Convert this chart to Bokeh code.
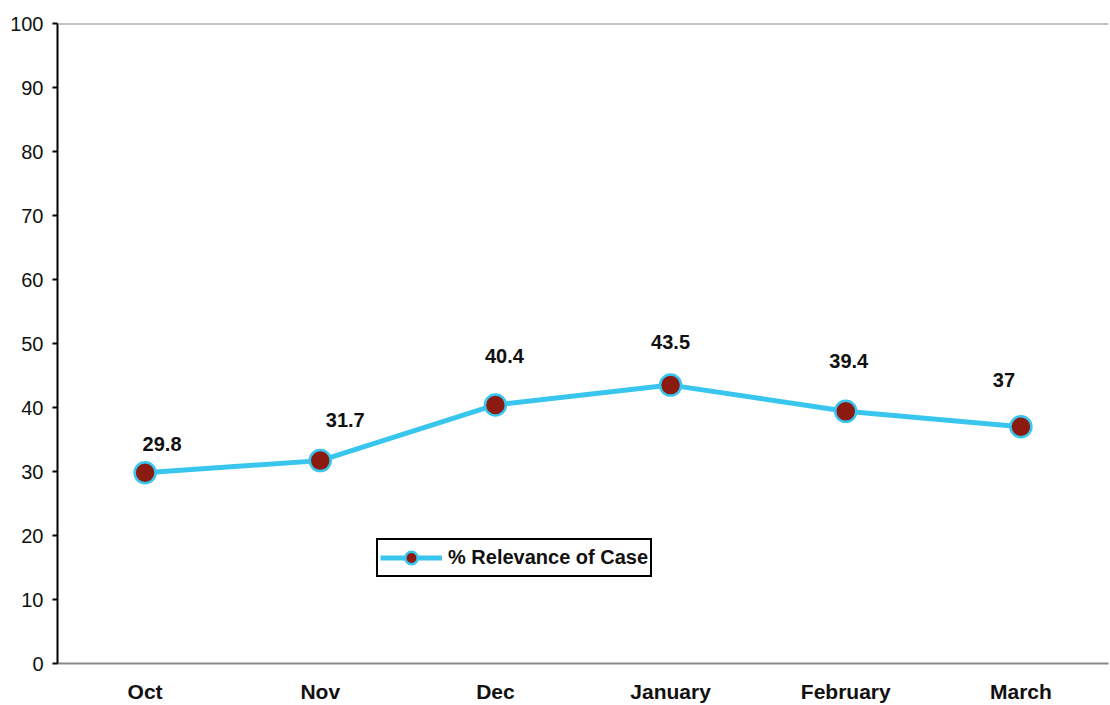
from bokeh.plotting import figure
from bokeh.models import ColumnDataSource, Span, Legend, LegendItem, FixedTicker, LabelSet
from bokeh.core.properties import value
from bokeh.embed import file_html
from bokeh.resources import INLINE

months = ["Oct", "Nov", "Dec", "January", "February", "March"]
relevance = [29.8, 31.7, 40.4, 43.5, 39.4, 37]
labels = ["29.8", "31.7", "40.4", "43.5", "39.4", "37"]
y_ticks = [0, 10, 20, 30, 40, 50, 60, 70, 80, 90, 100]
# label placement offsets (screen pixels), as placed in the original chart
label_dx = [17, 25, 9, 0, 3, -17]
label_dy = [22, 34, 42, 36, 43, 40]

src = ColumnDataSource(dict(x=months, y=relevance, lab=labels, dx=label_dx, dy=label_dy))

p = figure(x_range=months, y_range=(0, 100), width=1110, height=705,
           output_backend="svg", toolbar_location=None,
           min_border_left=57, min_border_right=2, min_border_top=23, min_border_bottom=36)
p.outline_line_color = None
p.xgrid.grid_line_color = None
p.ygrid.grid_line_color = None
p.x_range.range_padding = 0

p.yaxis.ticker = FixedTicker(ticks=y_ticks)
p.yaxis.axis_line_color = "black"
p.yaxis.axis_line_width = 2
p.yaxis.major_tick_line_color = "black"
p.yaxis.major_tick_line_width = 2
p.yaxis.major_tick_out = 5
p.yaxis.major_tick_in = 0
p.yaxis.minor_tick_line_color = None
p.yaxis.major_label_text_font = "Liberation Sans"
p.yaxis.major_label_text_font_size = "20px"
p.yaxis.major_label_text_color = "#111111"
p.yaxis.major_label_standoff = 9

p.xaxis.axis_line_color = "#888888"
p.xaxis.axis_line_width = 2
p.xaxis.major_tick_line_color = None
p.xaxis.minor_tick_line_color = None
p.xaxis.major_label_text_font = "Liberation Sans"
p.xaxis.major_label_text_font_style = "bold"
p.xaxis.major_label_text_font_size = "21px"
p.xaxis.major_label_text_color = "#111111"
p.xaxis.major_label_standoff = 10

p.add_layout(Span(location=100, dimension="width", line_color="#888888", line_width=2))

ln = p.line("x", "y", source=src, line_color="#38c6ee", line_width=5)
sc = p.scatter("x", "y", source=src, size=21, fill_color="#8b1a10",
               line_color="#38c6ee", line_width=2.5)

lbl = LabelSet(x="x", y="y", text="lab", source=src, text_font=value("Liberation Sans"),
               text_font_style="bold", text_font_size="20px", text_color="#111111",
               x_offset="dx", y_offset="dy", text_align="center", text_baseline="bottom")
p.add_layout(lbl)

legend = Legend(items=[LegendItem(label="% Relevance of Case", renderers=[ln, sc])],
                location=(319, 86), border_line_color="black", border_line_width=2,
                border_line_alpha=1,
                label_text_font="Liberation Sans", label_text_font_style="bold",
                label_text_font_size="20px", label_text_color="#111111",
                glyph_width=62, glyph_height=31, label_height=31,
                padding=2, spacing=0, margin=0, label_standoff=6,
                background_fill_alpha=1)
p.add_layout(legend)

open("out.html", "w").write(file_html(p, INLINE))
